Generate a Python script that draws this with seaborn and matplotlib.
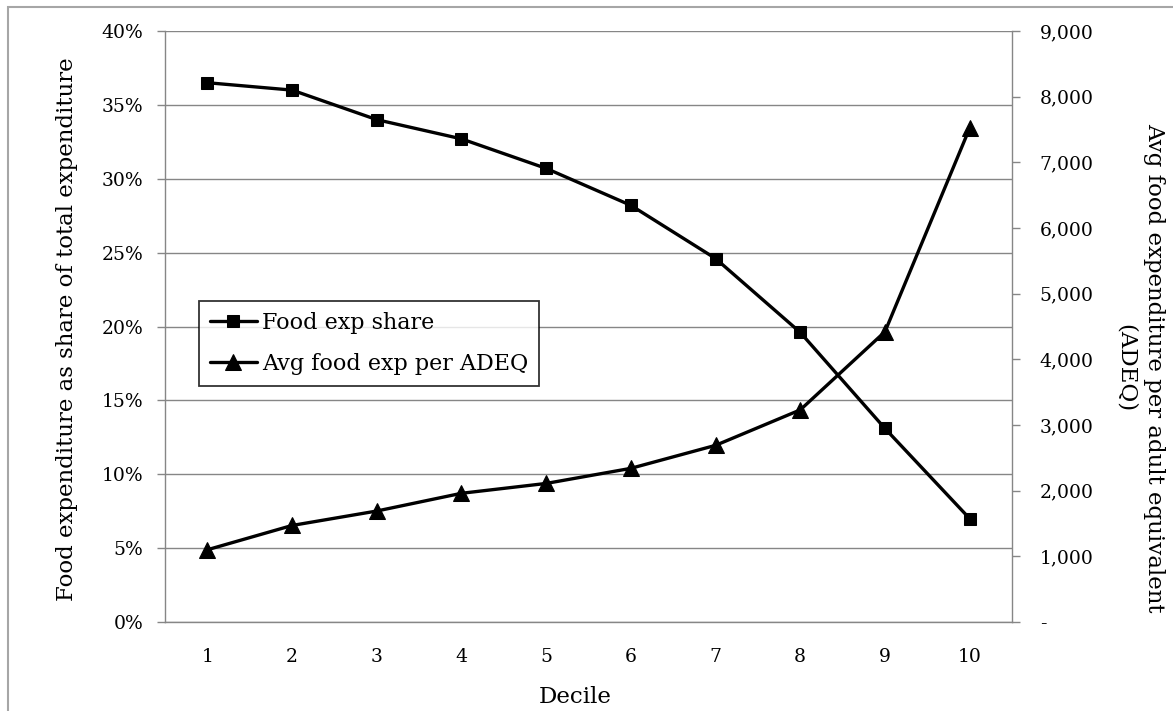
import numpy as np
import pandas as pd
import matplotlib
matplotlib.use("Agg")
import matplotlib.pyplot as plt
import seaborn as sns
from matplotlib.ticker import FuncFormatter
from matplotlib.patches import Rectangle

# Values
deciles = [1, 2, 3, 4, 5, 6, 7, 8, 9, 10]
food_share = [36.5, 36.0, 34.0, 32.7, 30.7, 28.2, 24.6, 19.6, 13.1, 7.0]
avg_food_exp = [1100, 1470, 1690, 1960, 2110, 2340, 2690, 3230, 4420, 7520]

left_ticks = [0, 5, 10, 15, 20, 25, 30, 35, 40]
right_ticks = [0, 1000, 2000, 3000, 4000, 5000, 6000, 7000, 8000, 9000]

df = pd.DataFrame({"decile": deciles, "share": food_share, "avg": avg_food_exp})

sns.set_style("white")
plt.rcParams["font.family"] = ["DejaVu Serif"]
plt.rcParams["text.color"] = "black"
plt.rcParams["axes.labelcolor"] = "black"

W, H = 1173, 711
fig = plt.figure(figsize=(W / 100, H / 100), dpi=100)
fig.patch.set_facecolor("white")

# grey frame around the chart area
fig.patches.append(Rectangle((8 / W, -0.02), 1.05, 1 - 7 / H + 0.02, transform=fig.transFigure,
                             fill=False, edgecolor="#a6a6a6", linewidth=1.5))

ax = fig.add_axes([165 / W, 1 - 622 / H, (1012 - 165) / W, (622 - 31) / H])
ax2 = ax.twinx()

grey = "#868686"

sns.lineplot(x="decile", y="share", data=df, ax=ax, color="black", linewidth=2.4,
             marker="s", markersize=9, markeredgecolor="black", label="Food exp share", legend=False)
sns.lineplot(x="decile", y="avg", data=df, ax=ax2, color="black", linewidth=2.4,
             marker="^", markersize=12, markeredgecolor="black", label="Avg food exp per ADEQ", legend=False)

ax.set_xlim(0.5, 10.5)
ax.set_ylim(0, 40)
ax2.set_ylim(0, 9000)

ax.set_yticks(left_ticks)
ax.yaxis.set_major_formatter(FuncFormatter(lambda v, p: f"{v:.0f}%"))
ax2.set_yticks(right_ticks)
ax2.yaxis.set_major_formatter(FuncFormatter(lambda v, p: "-" if v == 0 else f"{v:,.0f}"))

ax.set_xticks(deciles)
ax.set_xticks(np.arange(0.5, 11, 1), minor=True)
ax.tick_params(axis="x", which="major", length=0, pad=19, labelsize=13.5, labelcolor="black")
ax.tick_params(axis="x", which="minor", length=5, width=1, color=grey, direction="out")
ax.tick_params(axis="y", length=5.5, width=1, color=grey, direction="out", pad=10,
               labelsize=13.5, labelcolor="black")
ax2.tick_params(axis="y", length=5.5, width=1, color=grey, direction="out", pad=14.5,
                labelsize=13.5, labelcolor="black")

ax.grid(axis="y", color=grey, linewidth=1)
ax.set_axisbelow(True)

for a in (ax, ax2):
    a.spines["top"].set_visible(False)
    for s in ("left", "right", "bottom"):
        a.spines[s].set_color(grey)
        a.spines[s].set_linewidth(1)
ax.spines["right"].set_visible(False)
ax2.spines["left"].set_visible(False)
ax2.spines["bottom"].set_visible(False)

ax.set_xlabel("")
ax.set_ylabel("")
ax2.set_ylabel("")
fig.text(575 / W, 1 - 697 / H, "Decile", ha="center", va="center", fontsize=16.5)
fig.text(67 / W, 1 - 329 / H, "Food expenditure as share of total expenditure",
         rotation=90, ha="center", va="center", fontsize=16.5)
fig.text(1140 / W, 1 - 368 / H, "Avg food expenditure per adult equivalent\n(ADEQ)",
         rotation=270, ha="center", va="center", multialignment="center", fontsize=16.5,
         linespacing=1.4)

h1, l1 = ax.get_legend_handles_labels()
h2, l2 = ax2.get_legend_handles_labels()
leg = ax2.legend(h1 + h2, l1 + l2, loc="upper left", bbox_to_anchor=(199 / W, 1 - 301 / H),
                 bbox_transform=fig.transFigure, fontsize=16, frameon=True, fancybox=False,
                 handlelength=2.1, handletextpad=0.22, borderpad=0.5, labelspacing=0.85,
                 borderaxespad=0)
leg.get_frame().set_edgecolor("black")
leg.get_frame().set_linewidth(1.3)

fig.savefig("out.png", dpi=100, facecolor="white")
plt.close(fig)
